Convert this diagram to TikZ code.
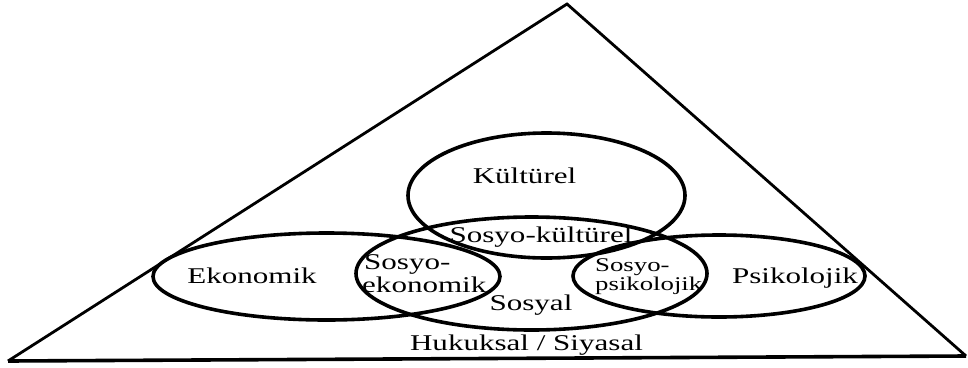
\documentclass[tikz,border=0pt]{standalone}
\usepackage{fontspec}
\setmainfont{Liberation Serif}[FakeStretch=1.38]
\begin{document}
\begin{tikzpicture}[x=1pt,y=-1pt,
  ring/.style={line width=3.6pt},
  side/.style={line width=2.8pt},
  baseline/.style={line width=3.6pt},
  lbl/.style={font=\fontsize{22.5}{25}\selectfont, inner sep=0pt},
  slbl/.style={font=\fontsize{19.4}{21}\selectfont, inner sep=0pt}]
\useasboundingbox (0,0) rectangle (968,367);
% triangle
\coordinate (A) at (567,4);
\coordinate (B) at (8,361);
\coordinate (C) at (966,356);
\draw[side, line join=miter] (B) -- (A) -- (C);
\draw[baseline] (B) -- (C);
% ellipses
\draw[ring] (546.5,195.5) ellipse [x radius=138.5pt, y radius=62.5pt];
\draw[ring] (531.5,273.5) ellipse [x radius=175.5pt, y radius=56.5pt];
\draw[ring] (326.5,276.5) ellipse [x radius=173.5pt, y radius=43.5pt];
\draw[ring] (719,276) ellipse [x radius=146pt, y radius=41pt];
% labels
\node[lbl, anchor=base] (kul) at (524.5,183) {Kültürel};
\node[lbl, anchor=base] (sk) at (541,242) {Sosyo-kültürel};
\node[lbl, anchor=base] (eko) at (252,283) {Ekonomik};
\node[lbl, anchor=base west] (se1) at (364,269) {Sosyo-};
\node[lbl, anchor=base west] (se2) at (362,292) {ekonomik};
\node[lbl, anchor=base] (sos) at (531,310) {Sosyal};
\node[slbl, anchor=base west] (sp1) at (595,271) {Sosyo-};
\node[slbl, anchor=base west] (sp2) at (595,290) {psikolojik};
\node[lbl, anchor=base] (psi) at (795,283) {Psikolojik};
\node[lbl, anchor=base] (huk) at (526.5,350) {Hukuksal / Siyasal};
\end{tikzpicture}
\end{document}
